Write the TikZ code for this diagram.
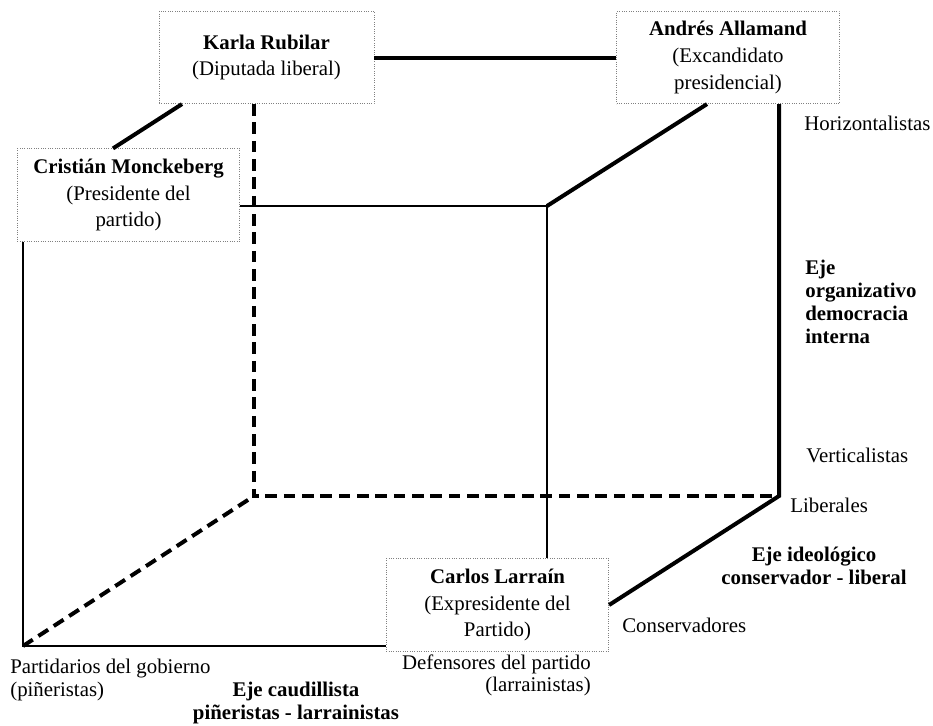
\documentclass[tikz,border=0pt]{standalone}
\usepackage{fontspec}
\setmainfont{Liberation Serif}
\begin{document}
\begin{tikzpicture}[x=0.6pt, y=-0.6pt,
  person/.style={rectangle, draw=gray, densely dotted, thin, fill=white, minimum height=55.5pt, minimum width=133.5pt, align=center, inner sep=2pt, font=\fontsize{12.5}{16}\selectfont},
  pole/.style={inner sep=0pt, font=\fontsize{12.5}{13.5}\selectfont},
  axis/.style={inner sep=0pt, font=\fontsize{12.5}{13.8}\selectfont\bfseries},
  edge/.style={line width=2.4pt},
  hidden/.style={line width=2.4pt, dash pattern=on 7pt off 4pt},
  front/.style={line width=0.8pt}]
  \useasboundingbox (0,0) rectangle (933,725);
  % Nodes
  \node (kr) [person, minimum width=129pt] at (266.5, 57.5) {\textbf{Karla Rubilar}\\(Diputada liberal)};
  \node (aa) [person] at (728, 57.5) {\textbf{Andrés Allamand}\\(Excandidato\\presidencial)};
  \node (cm) [person] at (128.5, 195) {\textbf{Cristián Monckeberg}\\(Presidente del\\partido)};
  \node (cl) [person] at (497.5, 605) {\textbf{Carlos Larraín}\\(Expresidente del\\Partido)};
  % Corners
  \coordinate (fbl) at (23, 646);
  \coordinate (ftr) at (547, 206);
  \coordinate (bbl) at (254, 496);
  \coordinate (bbr) at (779, 496);
  % Edges
  \draw[edge] (kr.east) -- (kr.east -| aa.west);
  \draw[edge] ([xshift=-9.3pt]cm.north) -- ([xshift=-50.7pt]kr.south);
  \draw[edge] (ftr) -- ([xshift=-12.6pt]aa.south);
  \draw[edge] (aa.south -| bbr) -- (bbr) -- (cl.east);
  \draw[hidden] (kr.south -| bbl) -- (bbl) -- (bbr);
  \draw[hidden] (fbl) -- (bbl);
  \draw[front] (fbl |- cm.south) -- (fbl) -- (fbl -| cl.west);
  \draw[front] (cm.east |- ftr) -- (ftr) -- (ftr |- cl.north);
  % Poles
  \node (hz) [pole, anchor=west] at (804, 123) {Horizontalistas};
  \node (vt) [pole, anchor=west] at (806, 455) {Verticalistas};
  \node (lb) [pole, anchor=west] at (790, 505) {Liberales};
  \node (cs) [pole, anchor=west] at (622, 625) {Conservadores};
  \node (pg) [pole, anchor=north west, align=left] at (10, 659) {Partidarios del gobierno\\(piñeristas)};
  \node (dp) [pole, anchor=north east, align=right] at (591, 654) {Defensores del partido\\(larrainistas)};
  % Axes
  \node (ec) [axis, align=center] at (296, 703) {Eje caudillista\\piñeristas - larrainistas};
  \node (ei) [axis, align=center] at (814, 566) {Eje ideológico\\conservador - liberal};
  \node (eo) [axis, anchor=north west, align=left] at (805, 260) {Eje\\organizativo\\democracia\\interna};
\end{tikzpicture}
\end{document}
